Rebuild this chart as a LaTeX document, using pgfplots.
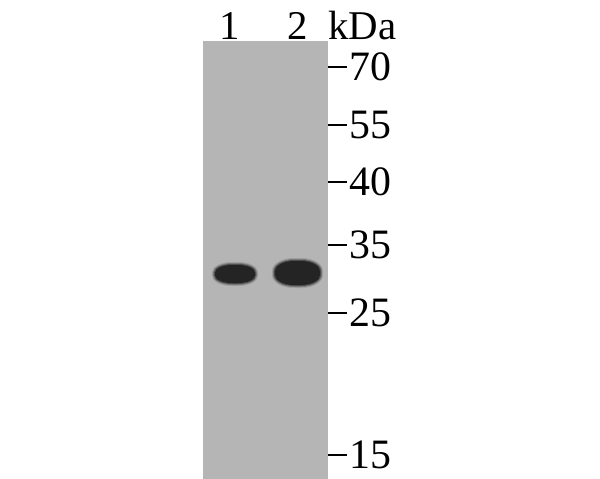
\documentclass[border=0pt]{standalone}
\usepackage{pgfplots}
\pgfplotsset{compat=1.18}
\usepackage{fontspec}
\setmainfont{Liberation Serif}
\definecolor{gel}{RGB}{181,181,181}
\definecolor{band}{RGB}{36,36,36}
% rounded-rectangle mark (corner radius 0.85 of the half size)
\pgfdeclareplotmark{rrect}{%
  \pgfpathmoveto{\pgfpoint{0pt}{\pgfplotmarksize}}%
  \pgfpathlineto{\pgfpoint{0.15\pgfplotmarksize}{\pgfplotmarksize}}%
  \pgfpathcurveto{\pgfpoint{0.619\pgfplotmarksize}{\pgfplotmarksize}}{\pgfpoint{\pgfplotmarksize}{0.619\pgfplotmarksize}}{\pgfpoint{\pgfplotmarksize}{0.15\pgfplotmarksize}}%
  \pgfpathlineto{\pgfpoint{\pgfplotmarksize}{-0.15\pgfplotmarksize}}%
  \pgfpathcurveto{\pgfpoint{\pgfplotmarksize}{-0.619\pgfplotmarksize}}{\pgfpoint{0.619\pgfplotmarksize}{-\pgfplotmarksize}}{\pgfpoint{0.15\pgfplotmarksize}{-\pgfplotmarksize}}%
  \pgfpathlineto{\pgfpoint{-0.15\pgfplotmarksize}{-\pgfplotmarksize}}%
  \pgfpathcurveto{\pgfpoint{-0.619\pgfplotmarksize}{-\pgfplotmarksize}}{\pgfpoint{-\pgfplotmarksize}{-0.619\pgfplotmarksize}}{\pgfpoint{-\pgfplotmarksize}{-0.15\pgfplotmarksize}}%
  \pgfpathlineto{\pgfpoint{-\pgfplotmarksize}{0.15\pgfplotmarksize}}%
  \pgfpathcurveto{\pgfpoint{-\pgfplotmarksize}{0.619\pgfplotmarksize}}{\pgfpoint{-0.619\pgfplotmarksize}{\pgfplotmarksize}}{\pgfpoint{-0.15\pgfplotmarksize}{\pgfplotmarksize}}%
  \pgfpathclose
  \pgfusepathqfill}
\begin{document}
\begin{tikzpicture}
\useasboundingbox (-203bp,0bp) rectangle (397bp,479bp);
\begin{axis}[
  at={(0bp,0bp)}, anchor=south west,
  scale only axis, width=125bp, height=438bp,
  xmin=0.488, xmax=2.488, ymin=41, ymax=479, y dir=reverse,
  axis line style={draw=none},
  axis background/.style={fill=gel},
  xtick=\empty,
  ytick={67,125,182,245,313,455},
  yticklabels={70,55,40,35,25,15},
  yticklabel pos=right, ytick pos=right,
  tick align=outside, major tick length=19bp,
  y tick style={line width=1.3bp, black},
  yticklabel style={font=\fontsize{42}{42}\selectfont, inner sep=0pt, anchor=west, xshift=2bp},
  clip=false,
  every axis plot/.append style={only marks, mark=rrect},
]
% lane 1 band: soft edge layers then core
\addplot[mark size=12bp, mark options={xscale=1.92, draw=none, fill=band, fill opacity=0.15}] coordinates {(1,274)};
\addplot[mark size=11bp, mark options={xscale=2.0, draw=none, fill=band, fill opacity=0.3}] coordinates {(1,274)};
\addplot[mark size=10bp, mark options={xscale=2.1, draw=none, fill=band, fill opacity=0.5}] coordinates {(1,274)};
\addplot[mark size=9bp, mark options={xscale=2.22, draw=none, fill=band}] coordinates {(1,274)};
% lane 2 band
\addplot[mark size=15bp, mark options={xscale=1.70, draw=none, fill=band, fill opacity=0.15}] coordinates {(2,273)};
\addplot[mark size=14bp, mark options={xscale=1.75, draw=none, fill=band, fill opacity=0.3}] coordinates {(2,273)};
\addplot[mark size=13bp, mark options={xscale=1.81, draw=none, fill=band, fill opacity=0.5}] coordinates {(2,273)};
\addplot[mark size=12bp, mark options={xscale=1.88, draw=none, fill=band}] coordinates {(2,273)};
\node[anchor=base, inner sep=0pt, font=\fontsize{41}{41}\selectfont] at (axis cs:0.92,40) {1};
\node[anchor=base, inner sep=0pt, font=\fontsize{41}{41}\selectfont] at (axis cs:2.01,40) {2};
\node[anchor=base west, inner sep=0pt, font=\fontsize{41}{41}\selectfont] at (axis cs:2.488,40) {kDa};
\end{axis}
\end{tikzpicture}
\end{document}
